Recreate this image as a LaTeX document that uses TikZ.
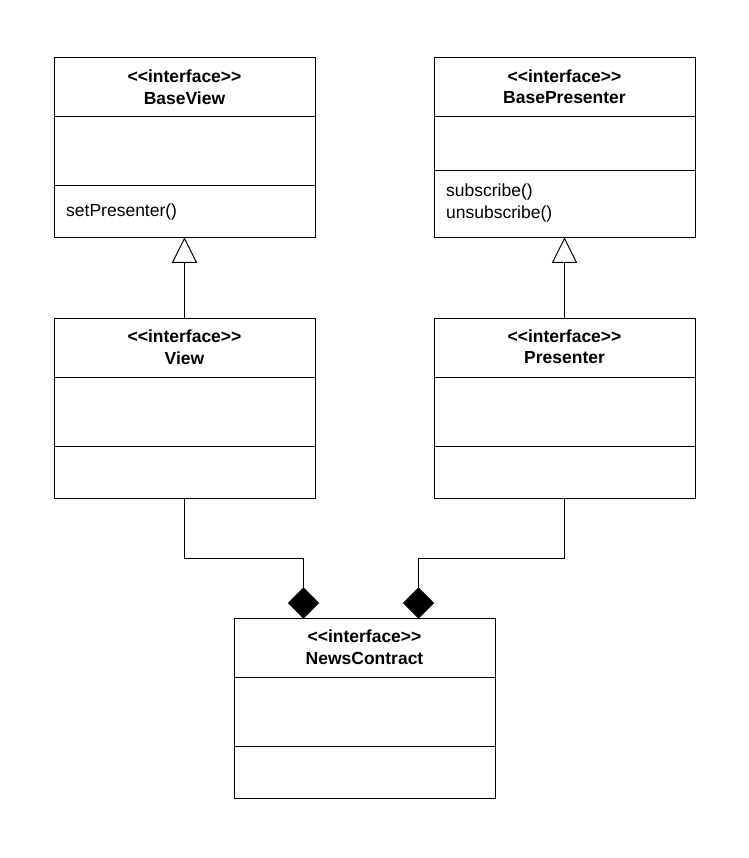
\documentclass[tikz,border=0pt]{standalone}
\usepackage{fontspec}
\setmainfont{Liberation Sans}
\begin{document}
\begin{tikzpicture}[x=1pt,y=-1pt,
  classbox/.style={draw,line width=1pt,minimum width=261pt,minimum height=180pt,inner sep=0pt},
  sep/.style={line width=1pt},
  conn/.style={line width=1pt},
  hd/.style={font=\fontsize{17.5}{20}\selectfont\bfseries,inner sep=0pt},
  meth/.style={font=\fontsize{17.5}{20}\selectfont,inner sep=0pt,anchor=west}]
\useasboundingbox (0,0) rectangle (748,858);
% BaseView
\node[classbox] (bv) at (184.5,148) {};
\draw[sep] (54,117) -- (315,117) (54,186) -- (315,186);
\node[hd] (bvs) at (184.5,76) {<{}<interface>{}>};
\node[hd] (bvn) at (184.5,98) {BaseView};
\node[meth] (bvm) at (66,212) {setPresenter()};
% BasePresenter
\node[classbox] (bp) at (564.5,148) {};
\draw[sep] (434,117) -- (695,117) (434,171) -- (695,171);
\node[hd] (bps) at (564.5,76) {<{}<interface>{}>};
\node[hd] (bpn) at (564.5,98) {BasePresenter};
\node[meth] (bpm1) at (446,192) {subscribe()};
\node[meth] (bpm2) at (446,214) {unsubscribe()};
% View
\node[classbox] (v) at (184.5,408) {};
\draw[sep] (54,377) -- (315,377) (54,446) -- (315,446);
\node[hd] (vs) at (184.5,336) {<{}<interface>{}>};
\node[hd] (vn) at (184.5,358) {View};
% Presenter
\node[classbox] (p) at (564.5,408) {};
\draw[sep] (434,377) -- (695,377) (434,446) -- (695,446);
\node[hd] (ps) at (564.5,336) {<{}<interface>{}>};
\node[hd] (pn) at (564.5,358) {Presenter};
% NewsContract
\node[classbox] (nc) at (364.5,708) {};
\draw[sep] (234,677) -- (495,677) (234,746) -- (495,746);
\node[hd] (ncs) at (364.5,636) {<{}<interface>{}>};
\node[hd] (ncn) at (364.5,658) {NewsContract};
% inheritance
\coordinate (t1) at (184.5,262);
\coordinate (t2) at (564.5,262);
\draw[conn,fill=white] (bv.south) -- ++(-12,24) -- ++(24,0) -- cycle;
\draw[conn] (v.north) -- (t1);
\draw[conn,fill=white] (bp.south) -- ++(-12,24) -- ++(24,0) -- cycle;
\draw[conn] (p.north) -- (t2);
% composition
\coordinate (d1) at (303.5,588);
\coordinate (d2) at (418.5,588);
\coordinate (k1) at (184.5,558);
\coordinate (k2) at (564.5,558);
\draw[conn] (v.south) -- (k1) -| (d1);
\draw[conn] (p.south) -- (k2) -| (d2);
\draw[conn,fill=black] (d1) -- ++(15,15) -- ++(-15,15) -- ++(-15,-15) -- cycle;
\draw[conn,fill=black] (d2) -- ++(15,15) -- ++(-15,15) -- ++(-15,-15) -- cycle;
\end{tikzpicture}
\end{document}
